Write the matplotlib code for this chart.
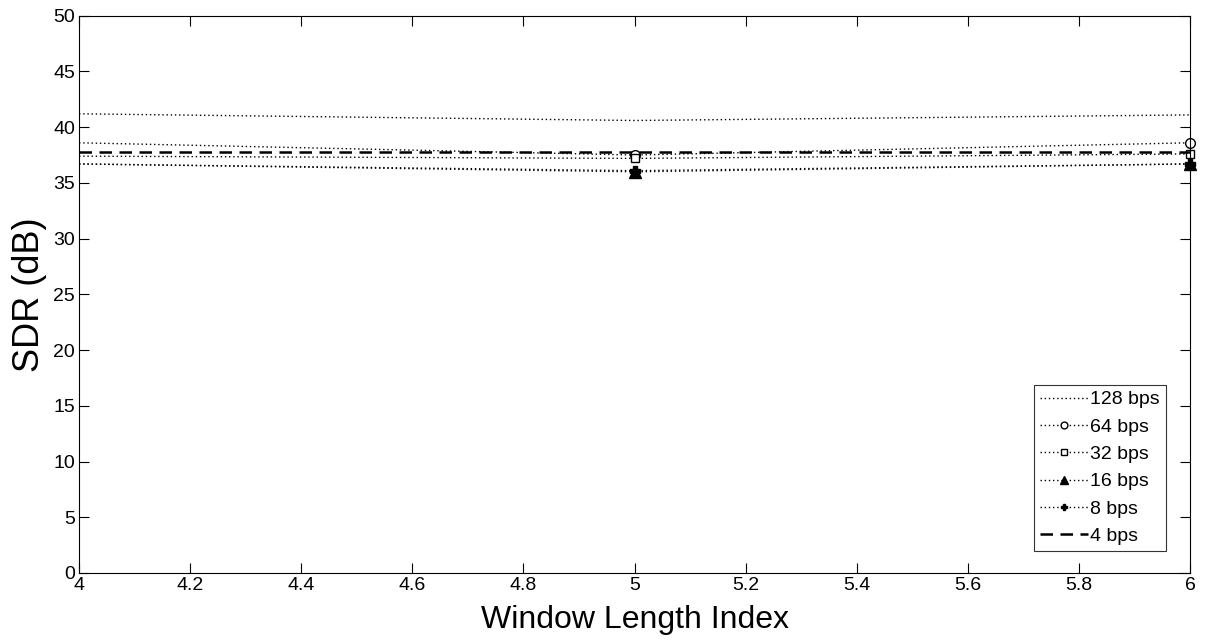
import matplotlib.pyplot as plt

plt.rcParams['font.family'] = ['Liberation Sans', 'DejaVu Sans']

# window length index
x = [4, 5, 6]

# SDR (dB) per bitrate
sdr_128 = [41.2, 40.6, 41.1]
sdr_64 = [38.6, 37.5, 38.6]
sdr_32 = [37.4, 37.2, 37.6]
sdr_16 = [36.7, 36.0, 36.7]
sdr_8 = [36.7, 36.1, 36.7]
sdr_4 = [37.8, 37.8, 37.8]

fig = plt.figure(figsize=(12.07, 6.42), dpi=100)
ax = fig.add_axes([0.0655, 0.1075, 0.9205, 0.868])

dot = (0, (1, 2))
ax.plot(x, sdr_128, color='black', linestyle=dot, linewidth=1, label='128 bps')
ax.plot(x, sdr_64, color='black', linestyle=dot, linewidth=1, marker='o',
        markersize=7, markerfacecolor='white', markevery=[1, 2], label='64 bps',
        clip_on=False)
ax.plot(x, sdr_32, color='black', linestyle=dot, linewidth=1, marker='s',
        markersize=6, markerfacecolor='white', markevery=[1, 2], label='32 bps',
        clip_on=False)
ax.plot(x, sdr_16, color='black', linestyle=dot, linewidth=1, marker='^',
        markersize=8, markerfacecolor='black', markevery=[1, 2], label='16 bps',
        clip_on=False)
ax.plot(x, sdr_8, color='black', linestyle=dot, linewidth=1, marker='P',
        markersize=7, markerfacecolor='black', markevery=[1, 2], label='8 bps',
        clip_on=False)
ax.plot(x, sdr_4, color='black', linestyle=(0, (5, 3)), linewidth=1.8, label='4 bps')

ax.set_xlim(4, 6)
ax.set_ylim(0, 50)
ax.set_xticks([4, 4.2, 4.4, 4.6, 4.8, 5, 5.2, 5.4, 5.6, 5.8, 6])
ax.set_xticklabels(['4', '4.2', '4.4', '4.6', '4.8', '5', '5.2', '5.4', '5.6', '5.8', '6'])
ax.set_yticks(range(0, 51, 5))
ax.tick_params(direction='in', top=True, right=True, length=7, labelsize=14, pad=3)

ax.set_xlabel('Window Length Index', fontsize=23, labelpad=8)
ax.set_ylabel('SDR (dB)', fontsize=26, labelpad=4)

leg = ax.legend(loc='lower right', bbox_to_anchor=(0.978, 0.0395), borderaxespad=0,
                fontsize=14, frameon=True, fancybox=False, edgecolor='black',
                handlelength=2.5, handletextpad=0.1, borderpad=0.3, labelspacing=0.5,
                markerscale=0.7)
leg.get_frame().set_linewidth(0.8)

plt.savefig('out.png', dpi=100)
